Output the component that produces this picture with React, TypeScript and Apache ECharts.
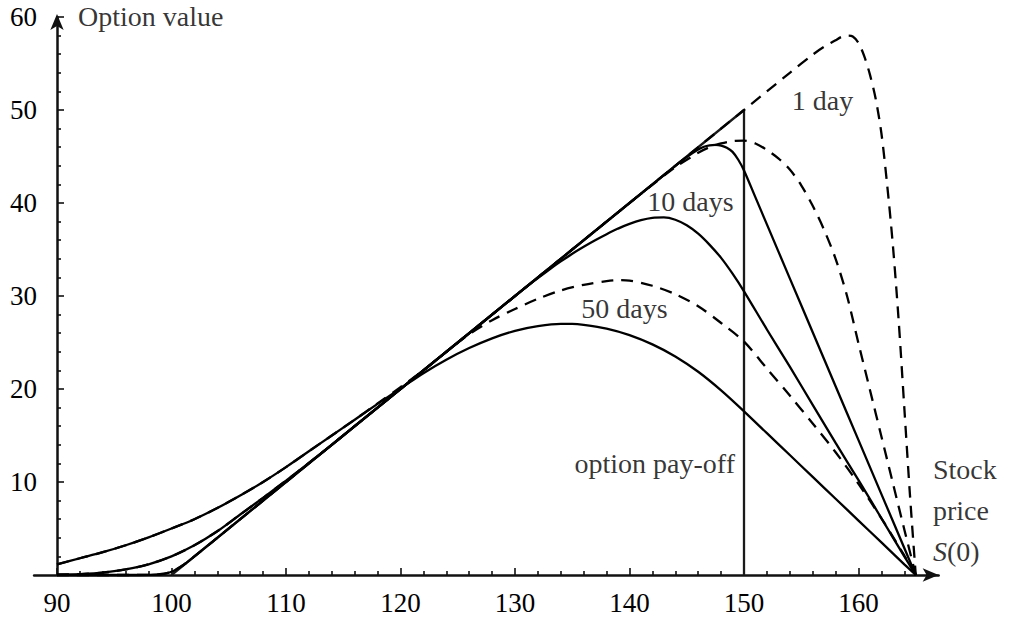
import React, { useEffect, useRef } from 'react';
import * as echarts from 'echarts';

const FONT = "'Liberation Serif', 'Times New Roman', serif";
const TICK_FONT_SIZE = 27;
const TEXT_FONT_SIZE = 28;

// axis extents and ticks
const X_MIN = 88;
const X_MAX = 167;
const Y_MIN = 0;
const Y_MAX = 60;
const xMajorTicks = [90, 100, 110, 120, 130, 140, 150, 160];
const xMinorTicks = [92, 94, 96, 98, 102, 104, 106, 108, 112, 114, 116, 118, 122, 124, 126, 128, 132, 134, 136, 138, 142, 144, 146, 148, 152, 154, 156, 158, 162, 164, 166];
const yTickLabels = [10, 20, 30, 40, 50, 60];

// option pay-off
const payoff: [number, number][] = [[100, 0], [150, 50], [150, 0]];

// 1 day (solid)
const day1Solid: [number, number][] = [
  [90, 0], [96, 0], [98, 0.02], [99, 0.08], [100, 0.35], [101, 1.05], [102, 2.0], [104, 4.0],
  [110, 10], [120, 20], [130, 30], [140, 40], [144, 44], [145, 44.95], [146, 45.75], [146.5, 46.05],
  [147, 46.2], [147.5, 46.25], [148, 46.18], [148.5, 45.95], [149, 45.5], [149.5, 44.65], [150, 43.5],
  [151, 40.6], [152, 37.7], [154, 31.9], [156, 26.1], [158, 20.3], [160, 14.5], [162, 8.7], [164, 2.9], [165, 0],
];

// 10 days (solid)
const day10Solid: [number, number][] = [
  [90, 0.03], [92, 0.1], [94, 0.25], [96, 0.6], [98, 1.15], [100, 2.0], [102, 3.2], [104, 4.7],
  [106, 6.5], [108, 8.3], [110, 10.15], [112, 12.05], [114, 14.0], [116, 16], [120, 20], [125, 25],
  [130, 30], [131, 30.98], [132, 31.93], [133, 32.85], [134, 33.72], [135, 34.55], [136, 35.3],
  [137, 36.0], [138, 36.65], [139, 37.25], [140, 37.75], [141, 38.15], [142, 38.4], [143, 38.45],
  [144, 38.2], [145, 37.6], [146, 36.7], [147, 35.5], [148, 34.1], [149, 32.4], [150, 30.5],
  [152, 26.4], [154, 22.4], [156, 18.3], [158, 14.2], [160, 10.2], [162, 6.1], [164, 2.0], [165, 0],
];

// 50 days (solid)
const day50Solid: [number, number][] = [
  [90, 1.15], [92, 1.8], [94, 2.45], [96, 3.2], [98, 4.05], [100, 5.0], [102, 6.0], [104, 7.2], [106, 8.55],
  [108, 10.0], [110, 11.6], [112, 13.3], [114, 15.0], [116, 16.7], [118, 18.4], [120, 20.05], [122, 21.7],
  [124, 23.15], [126, 24.4], [128, 25.45], [130, 26.25], [132, 26.75], [134, 27.0], [135, 27.0],
  [136, 26.9], [138, 26.5], [140, 25.8], [142, 24.8], [144, 23.5], [146, 21.85], [148, 19.85], [150, 17.6],
  [152, 15.25], [154, 12.9], [156, 10.55], [158, 8.2], [160, 5.85], [162, 3.5], [164, 1.15], [165, 0],
];

// 1 day (dashed)
const day1Dashed: [number, number][] = [
  [90, 0], [96, 0], [98, 0.02], [99, 0.08], [100, 0.35], [101, 1.05], [102, 2.0], [104, 4.0],
  [110, 10], [120, 20], [130, 30], [140, 40], [150, 50], [154, 54], [156, 55.95], [157, 56.8],
  [158, 57.5], [158.5, 57.85], [159, 58.0], [159.5, 57.9], [160, 57.2], [160.5, 55.8], [161, 53.8],
  [161.5, 51.2], [162, 47.5], [162.5, 42.0], [163, 35.5], [163.5, 27.5], [164, 18.0], [164.5, 8.5], [165, 0],
];

// 10 days (dashed)
const day10Dashed: [number, number][] = [
  [90, 0.03], [92, 0.1], [94, 0.25], [96, 0.6], [98, 1.15], [100, 2.0], [102, 3.2], [104, 4.7],
  [106, 6.5], [108, 8.3], [110, 10.15], [112, 12.05], [114, 14.0], [116, 16], [120, 20], [130, 30],
  [140, 40], [142, 41.95], [144, 43.85], [146, 45.4], [147, 46.0], [148, 46.4], [149, 46.65], [150, 46.7],
  [151, 46.4], [152, 45.7], [153, 44.8], [154, 43.6], [155, 41.9], [156, 39.7], [157, 37.1], [158, 34.0],
  [159, 30.0], [160, 24.9], [161, 19.9], [162, 14.9], [163, 9.9], [164, 4.9], [165, 0],
];

// 50 days (dashed)
const day50Dashed: [number, number][] = [
  [90, 1.15], [92, 1.8], [94, 2.45], [96, 3.2], [98, 4.05], [100, 5.0], [102, 6.0], [104, 7.2], [106, 8.55],
  [108, 10.0], [110, 11.6], [112, 13.3], [114, 15.0], [116, 16.7], [118, 18.45], [120, 20.2], [122, 22.0],
  [124, 24.0], [126, 25.9], [128, 27.4], [130, 28.6], [132, 29.7], [134, 30.6], [136, 31.2], [138, 31.6],
  [139, 31.7], [140, 31.65], [142, 31.1], [144, 30.2], [146, 28.9], [148, 27.1], [150, 25.1], [152, 22.2],
  [154, 19.3], [156, 16.3], [158, 13.2], [160, 9.8], [162, 6.1], [164, 2.1], [165, 0],
];

// text labels and where they are anchored (data coordinates)
const labelTexts = ['Option value', '1 day', '10 days', '50 days', 'option pay-off', 'Stock\nprice\n{it|S}(0)'];
const labelAnchors: [number, number][] = [[91.83, 60.05], [156.86, 51.05], [145.33, 40.2], [139.56, 28.7], [149.21, 12.0], [166.5, 6.94]];
const labelAligns = ['left', 'center', 'center', 'center', 'right', 'left'];

export default function App() {
  const ref = useRef<HTMLDivElement>(null);
  useEffect(() => {
    document.body.style.margin = '0';
    if (!ref.current) return;
    const chart = echarts.init(ref.current, null, { renderer: 'svg' });

    const gridLeft = 34.1;
    const gridRight = 71.35;
    const gridWidth = 1010 - gridLeft - gridRight;
    const yAxisOffset = -((90 - X_MIN) * gridWidth) / (X_MAX - X_MIN);

    const lineSeries = (name: string, data: [number, number][], dashed: boolean) => ({
      type: 'line',
      name,
      data,
      xAxisIndex: 0,
      yAxisIndex: 0,
      symbol: 'none',
      showSymbol: false,
      smooth: 0.3,
      clip: false,
      silent: true,
      z: dashed ? 4 : 3,
      lineStyle: { color: '#000', width: 2.3, type: dashed ? [12, 8] : 'solid', cap: 'butt' },
    });

    const tickText = { color: '#000', fontFamily: FONT, fontSize: TICK_FONT_SIZE };
    const wordText = { color: '#000', fontFamily: FONT, fontSize: TEXT_FONT_SIZE };

    chart.setOption({
      animation: false,
      backgroundColor: '#fff',
      grid: { left: gridLeft, right: gridRight, top: 17, bottom: 46, containLabel: false, outerBoundsMode: 'none' },
      xAxis: [
        {
          type: 'value',
          min: X_MIN,
          max: X_MAX,
          position: 'bottom',
          splitLine: { show: false },
          axisLine: {
            show: true,
            onZero: false,
            lineStyle: { color: '#111', width: 2.5 },
            symbol: ['none', 'arrow'],
            symbolSize: [10, 16],
          },
          axisTick: { show: true, inside: true, length: 7, customValues: xMajorTicks, lineStyle: { color: '#111', width: 1.6 } },
          axisLabel: { show: true, customValues: xMajorTicks, margin: 14, ...tickText },
        },
        {
          type: 'value',
          min: X_MIN,
          max: X_MAX,
          position: 'bottom',
          splitLine: { show: false },
          axisLine: { show: false, onZero: false },
          axisTick: { show: true, inside: true, length: 4, customValues: xMinorTicks, lineStyle: { color: '#111', width: 1.6 } },
          axisLabel: { show: false },
        },
      ],
      yAxis: {
        type: 'value',
        min: Y_MIN,
        max: Y_MAX,
        interval: 10,
        offset: yAxisOffset,
        splitLine: { show: false },
        axisLine: {
          show: true,
          onZero: false,
          lineStyle: { color: '#111', width: 2.5 },
          symbol: ['none', 'arrow'],
          symbolSize: [10, 16],
          symbolOffset: [0, 3],
        },
        axisTick: { show: true, inside: true, length: 7, lineStyle: { color: '#111', width: 1.6 } },
        minorTick: { show: true, splitNumber: 5, length: 4, lineStyle: { color: '#111', width: 1.6 } },
        axisLabel: {
          show: true,
          margin: 20,
          formatter: (v: number) => (yTickLabels.includes(v) ? String(v) : ''),
          ...tickText,
        },
      },
      series: [
        {
          type: 'line',
          name: 'option pay-off',
          data: payoff,
          symbol: 'none',
          clip: false,
          silent: true,
          z: 2,
          lineStyle: { color: '#1a1a1a', width: 2.3 },
        },
        lineSeries('1 day', day1Solid, false),
        lineSeries('10 days', day10Solid, false),
        lineSeries('50 days', day50Solid, false),
        lineSeries('1 day dashed', day1Dashed, true),
        lineSeries('10 days dashed', day10Dashed, true),
        lineSeries('50 days dashed', day50Dashed, true),
        {
          type: 'scatter',
          symbolSize: 0,
          clip: false,
          silent: true,
          z: 10,
          data: labelTexts.map((t, i) => {
            const multi = t.includes('\n');
            return {
              value: labelAnchors[i],
              label: {
                show: true,
                position: 'inside',
                formatter: t,
                align: labelAligns[i],
                verticalAlign: 'middle',
                ...(multi ? { lineHeight: 41 } : {}),
                ...wordText,
                rich: multi
                  ? { it: { fontStyle: 'italic', fontFamily: FONT, fontSize: TEXT_FONT_SIZE, lineHeight: 41, color: '#000' } }
                  : undefined,
              },
            };
          }),
        },
      ],
    });
    return () => chart.dispose();
  }, []);
  return <div ref={ref} style={{ width: 1010, height: 621 }} />;
}
